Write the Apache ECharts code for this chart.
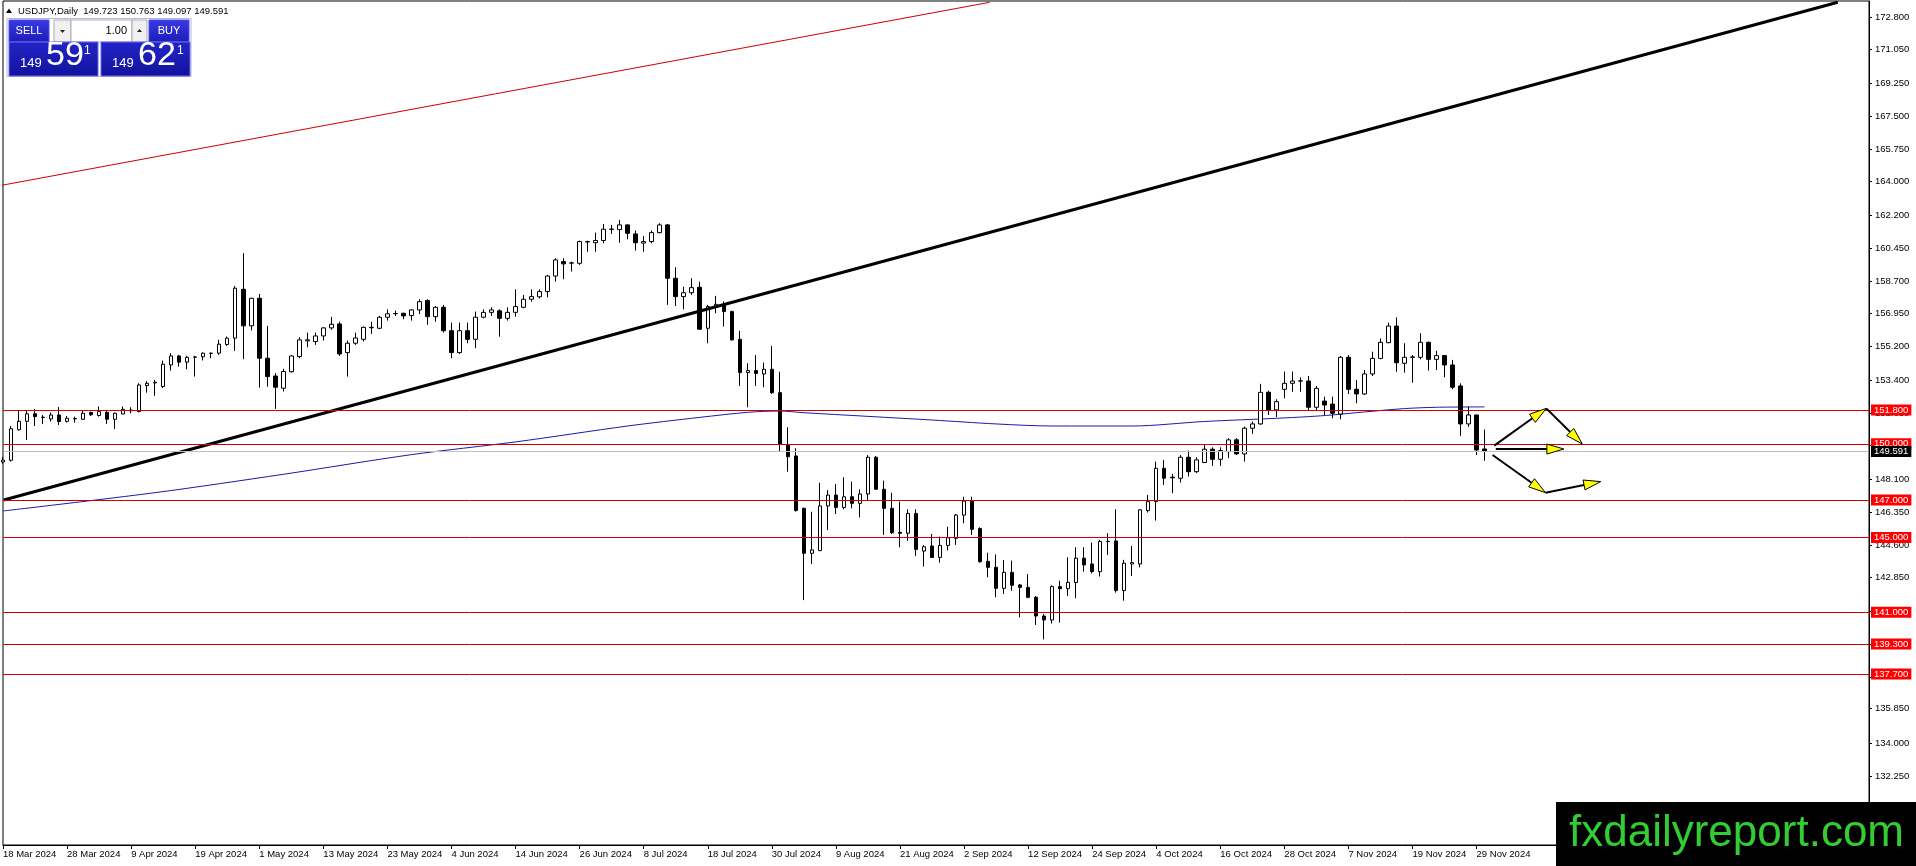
<!DOCTYPE html>
<html>
<head>
<meta charset="utf-8">
<script src="https://cdn.jsdelivr.net/npm/echarts@6/dist/echarts.min.js"></script>
<style>html,body{margin:0;padding:0;background:#fff;overflow:hidden}#c{width:1916px;height:866px}</style>
</head>
<body>
<div id="c"></div>
<script>
// ---- DATA (USDJPY Daily, 18 Mar 2024 .. 2 Dec 2024) ----
const opens = [
149.03,149.12,150.75,151.20,151.60,151.40,151.33,151.54,151.20,151.33,
151.31,151.67,151.51,151.68,151.31,151.59,151.80,151.72,153.11,153.25,
153.06,154.21,154.69,154.36,154.62,154.65,154.82,154.84,155.30,155.64,
158.25,156.30,157.77,154.57,153.62,152.97,153.85,154.66,155.50,155.46,
155.76,156.19,156.40,154.87,155.37,155.58,156.20,156.17,156.76,156.95,
156.97,156.85,157.15,157.65,156.79,157.29,156.04,154.87,156.04,155.58,
156.76,157.02,157.10,156.70,157.02,157.29,157.72,157.85,158.13,158.96,
159.73,159.65,159.64,160.78,160.74,160.86,161.45,161.44,161.69,161.21,
160.72,160.80,161.28,161.69,158.84,157.86,158.07,158.36,156.17,157.33,
157.42,157.06,155.58,153.80,153.91,153.73,153.98,152.73,149.94,149.35,
146.55,144.15,144.29,146.68,147.26,146.60,147.17,146.82,147.32,149.28,
147.57,146.55,145.27,145.22,146.28,144.27,144.54,143.93,144.57,144.95,
146.19,146.94,145.47,143.72,143.40,142.28,143.13,142.46,142.33,141.80,
140.80,140.59,142.37,142.26,142.59,143.89,143.58,143.17,144.78,144.81,
142.16,143.58,143.58,146.43,146.91,148.69,148.18,148.16,149.28,148.51,
149.00,149.71,149.17,149.58,150.21,149.46,150.83,151.06,152.75,151.81,
152.91,153.23,153.35,153.35,151.95,152.28,152.12,151.59,154.62,152.91,
152.66,153.73,154.56,155.40,156.29,154.30,154.62,154.62,155.42,154.51,
154.71,154.21,153.09,151.06,151.54,149.723];
const highs = [
149.30,150.95,151.78,151.80,151.86,151.54,151.67,151.97,151.49,151.45,
151.77,151.72,151.99,151.77,151.67,151.99,151.95,153.23,153.34,153.41,
154.44,154.84,154.75,154.70,154.70,154.88,154.88,155.55,155.73,158.43,
160.18,157.80,158.00,156.30,153.77,154.00,154.74,155.69,155.94,155.94,
156.22,156.78,156.52,155.51,155.94,156.26,156.52,156.83,157.18,157.11,
157.00,157.18,157.72,157.72,157.36,157.42,156.47,156.47,156.47,157.06,
157.18,157.29,157.18,157.29,158.25,157.95,158.25,158.25,159.02,159.91,
159.91,159.73,160.85,160.85,161.28,161.74,161.69,161.96,161.72,161.39,
161.10,161.39,161.78,161.74,159.43,158.39,158.84,158.66,157.42,157.90,
157.60,157.11,156.04,154.30,154.74,154.34,155.23,153.85,150.88,149.76,
146.60,146.37,147.92,147.53,147.85,148.21,147.98,147.57,149.40,149.35,
148.03,147.39,146.91,146.50,146.50,144.59,145.18,145.04,145.57,146.25,
147.17,147.17,145.54,144.18,144.09,143.79,143.76,142.51,143.04,141.87,
140.91,142.44,142.69,143.94,144.47,144.47,144.72,144.87,145.22,146.50,
143.80,144.54,146.50,147.27,149.05,149.14,148.39,149.40,149.64,149.28,
149.94,149.81,149.81,150.30,150.30,150.92,151.19,153.20,152.84,152.38,
153.86,153.86,153.55,153.62,153.09,152.52,152.52,154.69,154.74,153.41,
153.94,154.92,155.63,156.47,156.75,155.37,154.74,155.90,155.46,154.97,
154.74,154.48,153.23,151.98,151.54,150.763];
const lows = [
148.93,149.05,150.70,150.20,150.95,151.05,151.19,151.00,151.13,151.13,
151.27,151.49,151.45,151.06,150.79,151.58,151.63,151.68,152.73,152.56,
152.97,153.91,154.12,153.98,153.59,154.45,154.57,154.75,155.23,154.96,
154.52,156.05,153.00,153.05,151.86,152.79,153.80,154.57,155.15,155.28,
155.51,156.09,154.69,153.59,155.28,155.46,155.87,156.12,156.58,156.83,
156.65,156.58,156.93,156.35,156.52,155.94,154.57,154.80,155.37,155.10,
156.70,156.83,155.72,156.58,156.79,157.24,157.59,157.77,157.82,158.66,
158.79,159.20,159.55,160.26,160.26,160.71,161.21,160.74,160.92,160.32,
160.26,160.71,161.24,157.42,157.36,157.18,157.95,156.08,155.37,156.97,
156.26,155.51,153.09,151.95,153.09,153.02,152.66,149.58,148.51,146.38,
141.65,143.58,144.29,145.39,146.25,146.50,146.55,146.07,147.00,147.57,
145.13,145.18,144.47,144.82,144.00,143.44,143.93,143.65,144.30,144.60,
145.75,145.13,143.65,142.87,141.80,141.98,142.15,140.73,141.75,140.32,
139.55,140.40,140.45,141.87,141.75,143.17,143.08,142.91,144.06,142.05,
141.62,142.94,143.40,146.33,145.90,147.80,147.36,147.93,148.25,148.43,
149.00,148.82,148.82,149.23,149.41,149.05,150.53,151.01,151.54,151.42,
152.43,152.78,152.78,151.77,151.80,151.54,151.36,151.31,152.66,152.16,
152.61,153.62,154.51,155.37,153.85,153.80,153.26,154.51,153.91,153.94,
153.55,152.91,150.42,150.91,149.40,149.097];
const closes = [
149.13,150.80,151.20,151.60,151.45,151.42,151.54,151.19,151.36,151.35,
151.63,151.55,151.72,151.31,151.63,151.84,151.76,153.14,153.23,153.29,
154.25,154.69,154.36,154.62,154.64,154.84,154.84,155.32,155.64,158.31,
156.30,157.77,154.57,153.59,153.02,153.86,154.69,155.55,155.55,155.76,
156.19,156.38,154.80,155.37,155.65,156.22,156.22,156.76,156.94,156.96,
156.83,157.15,157.59,156.79,157.29,156.04,154.87,156.04,155.58,156.76,
157.02,157.15,156.70,157.02,157.33,157.72,157.86,158.13,158.96,159.82,
159.61,159.66,160.80,160.80,160.86,161.46,161.47,161.69,161.24,160.74,
160.80,161.28,161.69,158.84,157.86,158.07,158.34,156.12,157.33,157.45,
157.06,155.55,153.80,153.91,153.76,153.98,152.73,149.99,149.31,146.43,
144.15,144.33,146.68,147.26,146.60,147.17,146.82,147.32,149.28,147.57,
146.55,145.25,145.22,146.28,144.36,144.50,143.93,144.57,144.98,146.19,
146.94,145.43,143.70,143.40,142.28,143.13,142.44,142.33,141.80,140.80,
140.59,142.37,142.26,142.60,143.89,143.53,143.17,144.78,144.79,142.16,
143.62,143.65,146.47,146.91,148.69,148.16,148.22,149.28,148.51,149.14,
149.71,149.17,149.64,150.21,149.46,150.83,151.06,152.75,151.81,152.25,
153.23,153.35,153.36,151.95,152.96,152.07,151.63,154.62,152.91,152.66,
153.73,154.56,155.42,156.29,154.33,154.62,154.64,155.42,154.51,154.71,
154.21,153.02,151.06,151.54,149.67,149.591];

// Date tick labels (every 8th bar)
const dateTicks = ['18 Mar 2024','28 Mar 2024','9 Apr 2024','19 Apr 2024','1 May 2024','13 May 2024',
  '23 May 2024','4 Jun 2024','14 Jun 2024','26 Jun 2024','8 Jul 2024','18 Jul 2024','30 Jul 2024',
  '9 Aug 2024','21 Aug 2024','2 Sep 2024','12 Sep 2024','24 Sep 2024','4 Oct 2024','16 Oct 2024',
  '28 Oct 2024','7 Nov 2024','19 Nov 2024','29 Nov 2024'];
// Price axis tick labels
const priceTicks = [172.8,171.05,169.25,167.5,165.75,164.0,162.2,160.45,158.7,156.95,155.2,153.4,
  151.65,149.9,148.1,146.35,144.6,142.85,141.05,139.3,137.55,135.85,134.0,132.25,130.5];
// Horizontal levels (red)
const levels = [151.8,150.0,147.0,145.0,141.0,139.3,137.7];
const bidPrice = 149.591;
// Moving average readings [barIndex, value]
const maPoints = [[0,146.41],[19,147.39],[35,148.37],[51,149.42],[64,150.10],[78,150.95],[87,151.41],
  [93,151.68],[97,151.75],[100,151.66],[116,151.27],[124,151.06],[131,150.95],[141,150.95],
  [150,151.19],[159,151.36],[163,151.45],[166,151.54],[170,151.70],[175,151.88],[179,151.95],[185,151.97]];
// Trend lines [barIndex, price]
const blackTrend = [[0.1,147.0],[229.1,173.58]];
const redTrend = [[-0.37,163.79],[123.2,173.58]];
// Arrow annotations [x1,y1,x2,y2] in (barIndex, price)
const arrowSegs = [
  [186.2,149.90,192.7,151.89],
  [192.7,151.89,197.2,149.99],
  [186.4,149.72,194.9,149.72],
  [186.0,149.40,192.6,147.39],
  [192.6,147.39,199.5,147.98]
];

// ---- BUILD ----
const FONT = '"Liberation Sans", Arial, sans-serif';
const nSlots = 234;
const months = ['Jan','Feb','Mar','Apr','May','Jun','Jul','Aug','Sep','Oct','Nov','Dec'];
const categories = [];
for (let d = new Date(Date.UTC(2024,2,18)); categories.length < opens.length; d.setUTCDate(d.getUTCDate()+1)) {
  const wd = d.getUTCDay();
  if (wd === 0 || wd === 6) continue;
  categories.push(d.getUTCDate() + ' ' + months[d.getUTCMonth()] + ' ' + d.getUTCFullYear());
}
for (let k = categories.length; k < nSlots; k++) categories.push('slot' + k);
const candleData = opens.map((o, i) => [o, closes[i], lows[i], highs[i]]);
const tickInt = (idx) => idx % 8 === 0 && idx / 8 < dateTicks.length;

const chart = echarts.init(document.getElementById('c'), null, {renderer: 'canvas'});

const lvlLines = levels.map(v => ({
  yAxis: v,
  lineStyle: {color: '#d00000', width: 1, type: 'solid'},
  label: {show: true, position: 'end', distance: 2, formatter: p => Number(p.value).toFixed(3),
    color: '#fff', backgroundColor: '#ff0000', padding: [1, 3, 0, 3], fontSize: 9.5, fontFamily: FONT, lineHeight: 10}
}));
lvlLines.push({
  yAxis: bidPrice,
  lineStyle: {color: '#c0c0c0', width: 1, type: 'solid'},
  label: {show: true, position: 'end', distance: 2, formatter: p => Number(p.value).toFixed(3),
    color: '#fff', backgroundColor: '#000', padding: [1, 3, 0, 3], fontSize: 9.5, fontFamily: FONT, lineHeight: 10}
});

const btnGrad = () => new echarts.graphic.LinearGradient(0, 0, 0, 1, [{offset: 0, color: '#3a3ae4'}, {offset: 1, color: '#1c1cb6'}]);
const boxGrad = () => new echarts.graphic.LinearGradient(0, 0, 0, 1, [{offset: 0, color: '#2424c8'}, {offset: 1, color: '#12129c'}]);
const txt = (x, y, s, size, color, align) => ({type: 'text', x: x, y: y, z: 100,
  style: {text: s, fill: color, fontSize: size, fontFamily: FONT, align: align || 'left', verticalAlign: 'middle'}});

const option = {
  animation: false,
  backgroundColor: '#ffffff',
  grid: {left: 3, right: 47, top: 1, bottom: 21, show: true, borderColor: '#000', borderWidth: 1, backgroundColor: 'transparent'},
  xAxis: [
    {type: 'category', data: categories, boundaryGap: false,
      axisLine: {show: true, onZero: false, lineStyle: {color: '#000', width: 1}},
      axisTick: {show: true, interval: tickInt, length: 4, lineStyle: {color: '#000'}},
      axisLabel: {interval: tickInt, formatter: (v, i) => dateTicks[i / 8], align: 'left', margin: 4,
        color: '#000', fontSize: 9.5, fontFamily: FONT},
      splitLine: {show: false}},
    {type: 'value', min: 0, max: nSlots - 1, show: false, axisLine: {onZero: false}}
  ],
  yAxis: {type: 'value', position: 'right', min: 128.57, max: 173.65,
    axisLine: {show: true, onZero: false, lineStyle: {color: '#000', width: 1}},
    axisTick: {show: true, customValues: priceTicks, length: 3, lineStyle: {color: '#000'}},
    axisLabel: {customValues: priceTicks, formatter: v => Number(v).toFixed(3), margin: 6,
      color: '#000', fontSize: 9.5, fontFamily: FONT},
    splitLine: {show: false}},
  series: [
    {type: 'line', name: 'MA', xAxisIndex: 1, data: maPoints, smooth: 0.3, symbol: 'none', z: 2,
      lineStyle: {color: '#1a1aa8', width: 1},
      markLine: {silent: true, symbol: ['none', 'none'], precision: 3, data: lvlLines, animation: false}},
    {type: 'candlestick', name: 'USDJPY', xAxisIndex: 0, data: candleData, barWidth: 4, z: 3,
      itemStyle: {color: '#ffffff', color0: '#000000', borderColor: '#000000', borderColor0: '#000000', borderWidth: 1}},
    {type: 'line', name: 'trend1', xAxisIndex: 1, data: blackTrend, symbol: 'none', z: 4,
      lineStyle: {color: '#000', width: 3}},
    {type: 'line', name: 'trend2', xAxisIndex: 1, data: redTrend, symbol: 'none', z: 4,
      lineStyle: {color: '#cc0000', width: 1}},
    {type: 'custom', name: 'arrows', xAxisIndex: 1, data: arrowSegs, z: 5,
      renderItem: (params, api) => {
        const p1 = api.coord([api.value(0), api.value(1)]);
        const p2 = api.coord([api.value(2), api.value(3)]);
        const dx = p2[0] - p1[0], dy = p2[1] - p1[1];
        const len = Math.hypot(dx, dy), ux = dx / len, uy = dy / len;
        const L = 17, W = 5;
        const base = [p2[0] - ux * L, p2[1] - uy * L];
        const left = [base[0] - uy * W, base[1] + ux * W];
        const right = [base[0] + uy * W, base[1] - ux * W];
        return {type: 'group', children: [
          {type: 'line', shape: {x1: p1[0], y1: p1[1], x2: base[0], y2: base[1]}, style: {stroke: '#000', lineWidth: 2}},
          {type: 'polygon', shape: {points: [p2, left, right]}, style: {fill: '#ffff00', stroke: '#000', lineWidth: 1}}
        ]};
      }}
  ],
  graphic: [
    {type: 'polygon', z: 100, shape: {points: [[6, 13], [12, 13], [9, 8.5]]}, style: {fill: '#000'}},
    txt(18, 11, 'USDJPY,Daily  149.723 150.763 149.097 149.591', 9.5, '#000'),
    {type: 'rect', z: 99, shape: {x: 7, y: 18.5, width: 184, height: 58}, style: {fill: '#ffffff', stroke: '#b4b8dc', lineWidth: 1}},
    {type: 'rect', z: 100, shape: {x: 9, y: 20, width: 40, height: 22}, style: {fill: btnGrad(), stroke: '#5050f0', lineWidth: 1}},
    txt(29, 31, 'SELL', 11, '#fff', 'center'),
    {type: 'rect', z: 100, shape: {x: 54, y: 20, width: 17, height: 22}, style: {fill: '#f0f0f0', stroke: '#adadad', lineWidth: 1}},
    {type: 'polygon', z: 101, shape: {points: [[60, 30], [65, 30], [62.5, 33]]}, style: {fill: '#222'}},
    {type: 'rect', z: 100, shape: {x: 71, y: 20, width: 61, height: 22}, style: {fill: '#ffffff', stroke: '#adadad', lineWidth: 1}},
    txt(127, 31, '1.00', 11, '#000', 'right'),
    {type: 'rect', z: 100, shape: {x: 132, y: 20, width: 15, height: 22}, style: {fill: '#f0f0f0', stroke: '#adadad', lineWidth: 1}},
    {type: 'polygon', z: 101, shape: {points: [[137, 32], [142, 32], [139.5, 29]]}, style: {fill: '#222'}},
    {type: 'rect', z: 100, shape: {x: 149, y: 20, width: 40, height: 22}, style: {fill: btnGrad(), stroke: '#5050f0', lineWidth: 1}},
    txt(169, 31, 'BUY', 11, '#fff', 'center'),
    {type: 'rect', z: 100, shape: {x: 9, y: 42, width: 89, height: 34}, style: {fill: boxGrad(), stroke: '#6a6af0', lineWidth: 1}},
    {type: 'rect', z: 100, shape: {x: 101, y: 42, width: 89, height: 34}, style: {fill: boxGrad(), stroke: '#6a6af0', lineWidth: 1}},
    txt(20, 63, '149', 13, '#fff'),
    txt(46, 56, '59', 34, '#fff'),
    txt(84, 51, '1', 12, '#fff'),
    txt(112, 63, '149', 13, '#fff'),
    txt(138, 56, '62', 34, '#fff'),
    txt(177, 51, '1', 12, '#fff'),
    {type: 'rect', z: 100, shape: {x: 1556, y: 802, width: 360, height: 64}, style: {fill: '#000'}},
    txt(1569, 834, 'fxdailyreport.com', 44, '#33cc33')
  ]
};
chart.setOption(option);
</script>
</body>
</html>
